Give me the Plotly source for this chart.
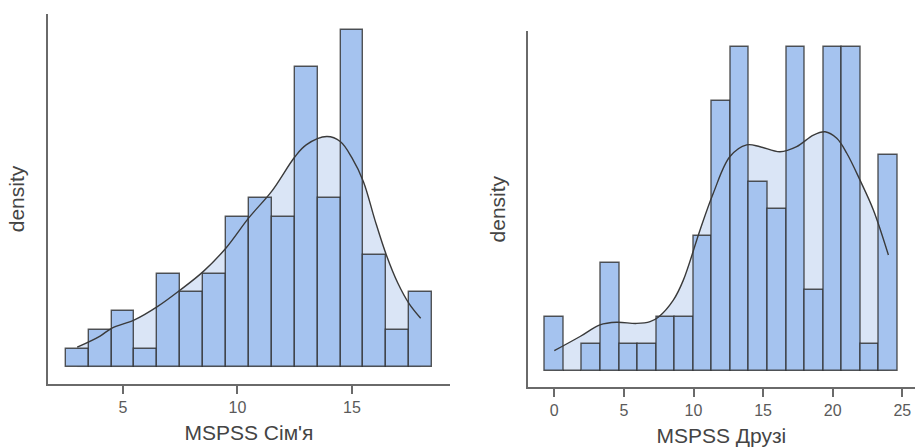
import plotly.graph_objects as go

# ---------------- data ----------------
# Left panel: MSPSS Сім'я (bin width 1, centered on integers)
fam_centers = [3, 4, 5, 6, 7, 8, 9, 10, 11, 12, 13, 14, 15, 16, 17, 18]
fam_counts = [1, 2, 3, 1, 5, 4, 5, 8, 9, 8, 16, 9, 18, 6, 2, 4]
fam_binwidth = 1.0
fam_kde_x = [3, 4, 4.5, 5.5, 6.5, 7.5, 8.5, 9.5, 10.5, 11.5, 12.5, 13, 13.9,
             14.5, 15, 15.5, 16, 16.5, 17, 17.5, 18]
fam_kde_y = [0.0106, 0.0165, 0.0206, 0.0250, 0.0320, 0.0408, 0.0505, 0.0630,
             0.0790, 0.0930, 0.1110, 0.1174, 0.1218, 0.1191, 0.1105, 0.0980,
             0.0778, 0.0593, 0.0445, 0.0335, 0.0259]

# Right panel: MSPSS Друзі (bin width 4/3)
fr_centers = [0, 4/3, 8/3, 4, 16/3, 20/3, 8, 28/3, 32/3, 12, 40/3, 44/3, 16,
              52/3, 56/3, 20, 64/3, 68/3, 24]
fr_counts = [2, 0, 1, 4, 1, 1, 2, 2, 5, 10, 12, 7, 6, 12, 3, 12, 12, 1, 8]
fr_binwidth = 4/3
fr_kde_x = [0, 1.85, 3.28, 4.48, 5.92, 6.88, 7.47, 8.55, 9.27, 10.47, 11.42,
            12.62, 13.82, 14.78, 16.21, 17.41, 18.61, 19.45, 20.29, 21.01,
            21.96, 22.92, 24.0]
fr_kde_y = [0.0055, 0.0094, 0.0126, 0.0133, 0.0130, 0.0135, 0.0147, 0.0194,
            0.0249, 0.0387, 0.0488, 0.0589, 0.0621, 0.0616, 0.0602, 0.0616,
            0.0648, 0.0657, 0.0639, 0.0598, 0.0524, 0.0442, 0.0318]

fam_tickvals = [5, 10, 15]
fr_tickvals = [0, 5, 10, 15, 20, 25]

# ---------------- style ----------------
BAR = "#A5C3EF"
FILL = "#DAE5F6"
EDGE = "rgba(45,45,45,0.8)"
CURVE = "#3a3a3a"
AXIS = "#6a6a6a"
FONT = "Liberation Sans, Arial, sans-serif"

W, H = 915, 448


def dens(counts, bw):
    n = sum(counts)
    return [c / (n * bw) for c in counts]


fig = go.Figure()

panels = [
    dict(base=("x", "y"), over=("x3", "y3"), centers=fam_centers, counts=fam_counts,
         bw=fam_binwidth, kx=fam_kde_x, ky=fam_kde_y),
    dict(base=("x2", "y2"), over=("x4", "y4"), centers=fr_centers, counts=fr_counts,
         bw=fr_binwidth, kx=fr_kde_x, ky=fr_kde_y),
]

for p in panels:
    # density area (base layer)
    fig.add_trace(go.Scatter(x=p["kx"], y=p["ky"], mode="lines",
                             line=dict(width=0, shape="spline", smoothing=1.0),
                             fill="tozeroy", fillcolor=FILL, hoverinfo="skip",
                             xaxis=p["base"][0], yaxis=p["base"][1], showlegend=False))
    # histogram bars (overlay layer)
    fig.add_trace(go.Bar(x=p["centers"], y=dens(p["counts"], p["bw"]), width=p["bw"],
                         marker=dict(color=BAR, line=dict(color=EDGE, width=1.4)),
                         xaxis=p["over"][0], yaxis=p["over"][1], showlegend=False))
    # density curve
    fig.add_trace(go.Scatter(x=p["kx"], y=p["ky"], mode="lines",
                             line=dict(color=CURVE, width=1.4, shape="spline", smoothing=1.0),
                             xaxis=p["over"][0], yaxis=p["over"][1], showlegend=False))

# geometry (pixels)
L_x0, L_x1, L_top, L_bot = 48, 450, 14, 384
R_x0, R_x1, R_top, R_bot = 527.7, 915, 31, 387.3

L_xrange = [1.725, 19.28]
L_yrange = [-0.00882, 0.1865]
R_xrange = [-1.91, 25.91]
R_yrange = [-0.00457, 0.09342]

Ldx = [L_x0 / W, L_x1 / W]
Ldy = [(H - L_bot) / H, (H - L_top) / H]
Rdx = [R_x0 / W, min(R_x1 / W, 1.0)]
Rdy = [(H - R_bot) / H, (H - R_top) / H]

TITLE_FONT = dict(family=FONT, size=21, color="#444444")

xcommon = dict(showline=True, linecolor=AXIS, linewidth=1.5, ticks="outside",
               ticklen=8, tickwidth=1.5, tickcolor=AXIS, showgrid=False, zeroline=False,
               tickfont=dict(family=FONT, size=16, color="#5a5a5a"))
ycommon = dict(showline=True, linecolor=AXIS, linewidth=1.5, ticks="", showticklabels=False,
               showgrid=False, zeroline=False)
hidden = dict(visible=False, showgrid=False, zeroline=False)

fig.update_layout(
    width=W, height=H, margin=dict(l=0, r=0, t=0, b=0),
    paper_bgcolor="white", plot_bgcolor="rgba(0,0,0,0)",
    bargap=0, barmode="overlay",
    xaxis=dict(domain=Ldx, range=L_xrange, tickvals=fam_tickvals, anchor="y",
               title=dict(text="MSPSS Сім'я", font=TITLE_FONT, standoff=10), **xcommon),
    yaxis=dict(domain=Ldy, range=L_yrange, anchor="x",
               title=dict(text="density", font=TITLE_FONT, standoff=16), **ycommon),
    xaxis2=dict(domain=Rdx, range=R_xrange, tickvals=fr_tickvals, anchor="y2",
                title=dict(text="MSPSS Друзі", font=TITLE_FONT, standoff=10), **xcommon),
    yaxis2=dict(domain=Rdy, range=R_yrange, anchor="x2",
                title=dict(text="density", font=TITLE_FONT, standoff=15), **ycommon),
    xaxis3=dict(overlaying="x", range=L_xrange, anchor="y3", **hidden),
    yaxis3=dict(overlaying="y", range=L_yrange, anchor="x3", **hidden),
    xaxis4=dict(overlaying="x2", range=R_xrange, anchor="y4", **hidden),
    yaxis4=dict(overlaying="y2", range=R_yrange, anchor="x4", **hidden),
)

fig.write_html("out.html")
